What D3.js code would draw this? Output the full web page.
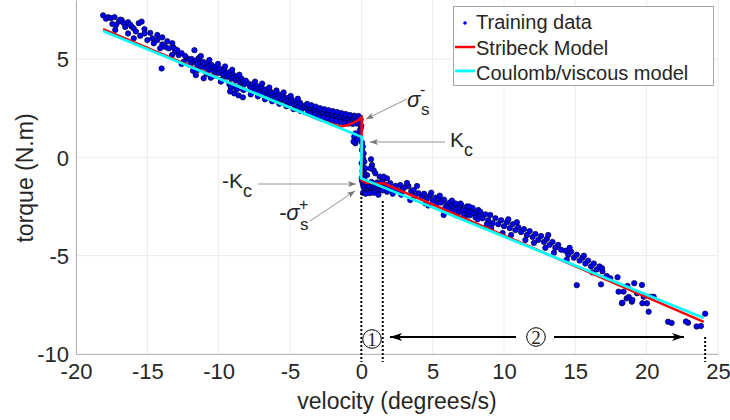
<!DOCTYPE html>
<meta charset="utf-8">
<script src="https://cdn.jsdelivr.net/npm/d3@7"></script>
<style>
body { margin: 0; background: #fff; }
text { font-family: "Liberation Sans", Arial, sans-serif; fill: #262626; }
.grid line { stroke: #ebebeb; stroke-width: 1px; }
.axisline { stroke: #b4b4b4; stroke-width: 1px; }
.ann { stroke: #777; stroke-width: 0.8px; fill: none; }
.dots { stroke: #000; stroke-width: 2px; stroke-dasharray: 2,2; }
</style>
<body>
<script>

// training data, [velocity, torque]
var leftData = [
  [-18.1,7.22],[-17.9,7.05],[-17.75,7.12],[-17.55,7.08],[-17.3,7.13],[-17.45,6.78],[-17.2,6.72],[-17.25,6.48],
  [-16.8,6.98],[-16.65,6.82],[-16.55,6.63],[-16.35,6.87],[-16.35,6.3],[-16.1,6.65],[-15.95,6.55],[-15.95,6.05],
  [-15.6,6.82],[-15.4,6.9],[-15.5,6.18],[-15.2,6.52],[-15.2,6.3],[-15.0,5.96],[-17.0,6.9],[-16.9,7.0],[-16.2,6.75],[-15.8,6.4],
  [-14.8,6.33],[-14.65,6.05],[-14.3,6.22],[-14.3,5.96],[-14.55,5.8],[-13.95,6.1],[-13.95,5.74],[-13.75,5.62],
  [-13.25,5.8],[-13.5,5.54],[-13.15,5.57],[-13.05,5.37],[-13.27,5.2],[-12.8,5.2],[-14.0,4.52],[-12.2,5.03],
  [-11.7,5.45],[-12.45,4.86],[-12.6,5.3],[-12.9,5.45],[-13.6,5.9],[-14.1,5.55],[-12.35,5.15],[-12.05,4.95],[-12.6,4.75],
  [-11.9,5.0],[-11.75,4.85],[-11.6,4.92],[-11.5,4.7],[-11.4,5.05],[-11.3,4.8],[-11.2,4.6],[-11.1,4.85],[-11.0,4.72],
  [-10.9,4.55],[-10.8,4.8],[-10.7,4.62],[-10.6,4.45],[-10.5,4.7],[-10.4,4.52],[-10.3,4.38],[-10.2,4.6],[-10.1,4.42],
  [-10.0,4.3],[-9.9,4.5],[-9.8,4.35],[-9.7,4.2],[-9.6,4.4],[-9.5,4.25],[-9.4,4.1],[-9.3,4.32],[-9.2,4.15],[-9.1,4.0],
  [-9.0,4.22],[-8.9,4.05],[-8.8,3.92],[-8.7,4.12],[-8.6,3.95],[-8.5,3.82],[-8.4,4.0],[-8.3,3.85],[-8.2,3.72],[-8.1,3.9],
  [-11.6,4.18],[-11.05,4.02],[-11.8,4.4],[-10.85,4.25],[-10.35,4.15],[-9.75,3.95],[-9.25,3.72],[-8.85,3.6],[-8.45,3.52],
  [-10.65,4.95],[-10.05,4.75],[-9.55,4.62],[-9.05,4.45],[-8.55,4.2],[-11.25,5.15],[-12.0,4.7],[-11.45,4.45],[-10.55,4.05],
  [-9.85,3.85],[-9.15,3.55],[-8.75,3.45],[-8.25,3.42],[-8.9,3.25],[-8.6,3.15],[-8.3,3.05],[-9.2,3.35],
  [-7.9,3.75],[-7.8,3.6],[-7.7,3.48],[-7.6,3.7],[-7.5,3.55],[-7.4,3.4],[-7.3,3.62],[-7.2,3.48],[-7.1,3.32],[-7.0,3.55],
  [-6.9,3.38],[-6.8,3.25],[-6.7,3.45],[-6.6,3.3],[-6.5,3.15],[-6.4,3.35],[-6.3,3.2],[-6.2,3.08],[-6.1,3.28],[-6.0,3.12],
  [-5.9,3.0],[-5.8,3.2],[-5.7,3.05],[-5.6,2.92],[-5.5,3.1],[-5.4,2.95],[-5.3,2.85],[-5.2,3.02],[-5.1,2.88],[-5.0,2.75],
  [-4.9,2.95],[-4.8,2.8],[-4.7,2.68],[-4.6,2.85],[-4.5,2.72],[-4.4,2.6],[-4.3,2.78],[-4.2,2.65],[-4.1,2.52],
  [-7.75,3.2],[-7.25,3.1],[-6.75,2.95],[-6.25,2.85],[-5.75,2.72],[-5.25,2.6],[-4.75,2.45],[-4.25,2.35],
  [-7.45,3.85],[-6.95,3.75],[-6.45,3.55],[-5.95,3.4],[-5.45,3.3],[-4.95,3.12],[-4.45,2.98],
  [-3.95,2.6],[-3.85,2.5],[-3.75,2.38],[-3.65,2.55],[-3.55,2.45],[-3.45,2.32],[-3.35,2.5],[-3.25,2.38],[-3.15,2.25],
  [-3.05,2.45],[-2.95,2.32],[-2.85,2.2],[-2.75,2.38],[-2.65,2.25],[-2.55,2.12],[-2.45,2.32],[-2.35,2.2],[-2.25,2.08],
  [-2.15,2.28],[-2.05,2.15],[-1.95,2.02],[-1.85,2.22],[-1.75,2.1],[-1.65,1.98],[-1.55,2.18],[-1.45,2.05],[-1.35,1.92],
  [-1.25,2.12],[-1.15,2.0],[-1.05,1.88],[-0.95,2.08],[-0.85,1.95],[-0.75,1.82],[-0.65,2.02],[-0.55,1.92],[-0.45,1.8],
  [-0.35,2.0],[-0.25,1.9],[-0.15,2.05],[-0.05,1.92],[-0.1,1.78],[-0.3,1.72],[-0.6,1.7],[-0.9,1.72],[-1.2,1.75],
  [-1.5,1.8],[-1.8,1.84],[-2.1,1.9],[-2.4,1.96],[-2.7,2.02],[-3.0,2.1],[-3.3,2.18],[-3.6,2.25],
  [-0.2,2.1],[-0.5,2.12],[-0.8,2.15],[-1.1,2.2],[-1.4,2.25],[-1.7,2.3],[-2.0,2.35],[-2.3,2.4],[-2.6,2.45],
  [-2.9,2.5],[-3.2,2.58],[-3.5,2.65],[-3.8,2.72]
];

var centerData = [
  [-0.42,1.22],[-0.35,0.97],[-0.42,0.71],[-0.5,1.05],[-0.55,0.8],[-0.16,1.13],[-0.25,0.9],[0.05,0.37],[0.16,0.2],
  [0.12,-0.05],[0.21,-0.22],[0.12,-0.48],[0.28,-0.56],[0.68,-0.1],[0.75,-0.39],[0.86,-0.65],[0.63,-0.56],[0.98,-0.81],
  [1.28,-0.98],[1.52,-1.12],[1.8,-1.07],[0.4,-0.9],[0.21,-0.81],[0.05,0.75],[0.1,0.55],[-0.05,1.45],[0.02,-0.3],
  [0.08,-0.7],[0.15,-1.0],[0.0,1.6],[-0.1,1.35],
  [0.05,-1.2],[0.1,-1.35],[0.15,-1.5],[0.2,-1.28],[0.25,-1.62],[0.3,-1.42],[0.35,-1.75],[0.4,-1.3],[0.45,-1.55],
  [0.5,-1.68],[0.55,-1.38],[0.6,-1.5],[0.65,-1.75],[0.7,-1.25],[0.75,-1.6],[0.8,-1.45],[0.85,-1.7],[0.9,-1.35],
  [0.95,-1.55],[1.0,-1.65],[1.05,-1.4],[1.1,-1.28],[1.15,-1.58],[1.2,-1.72],[1.25,-1.45],[1.3,-1.35],[1.35,-1.62],
  [1.4,-1.5],[1.45,-1.25],[1.5,-1.68],[0.12,-1.8],[0.3,-1.85],[0.6,-1.82],[0.9,-1.8],[1.2,-1.9],[0.02,-1.05],
  [0.2,-1.1],[1.56,-0.98]
];

var rightData = [
  [1.7,-1.4],[1.9,-1.55],[2.03,-1.32],[2.2,-1.6],[2.4,-1.45],[2.55,-1.7],[2.73,-1.41],[2.9,-1.62],[3.1,-1.5],
  [3.3,-1.46],[3.5,-1.72],[3.67,-1.66],[3.9,-1.46],[4.0,-1.83],[3.43,-2.17],[2.2,-1.85],[2.8,-1.9],[1.8,-1.75],
  [3.2,-1.3],[3.75,-1.95],
  [4.25,-2.0],[4.48,-2.34],[4.4,-1.85],[4.6,-2.1],[4.8,-1.95],[5.0,-2.2],[5.2,-2.05],[5.42,-2.08],[5.6,-2.3],
  [5.8,-2.15],[6.0,-2.4],[5.77,-2.93],[4.7,-2.45],[5.3,-2.35],[5.9,-2.55],[4.9,-1.8],[5.5,-1.95],
  [6.1,-2.59],[6.2,-2.3],[6.3,-2.45],[6.4,-2.7],[6.5,-2.5],[6.6,-2.35],[6.7,-2.6],[6.8,-2.8],[6.9,-2.55],[7.0,-2.42],
  [7.1,-2.7],[7.2,-2.9],[7.3,-2.65],[7.4,-2.5],[7.5,-2.78],[7.6,-2.95],[7.7,-2.7],[7.8,-2.58],[7.9,-2.85],[8.0,-3.05],
  [8.1,-2.8],[8.2,-2.68],[8.3,-2.95],[6.35,-2.2],[6.95,-2.35],[7.55,-2.5],[8.15,-3.15],[7.25,-3.1],[6.65,-2.95],[8.34,-2.77],
  [8.5,-3.1],[8.7,-2.9],[8.9,-3.2],[9.04,-2.93],[9.2,-3.35],[9.4,-3.1],[9.6,-3.4],[9.8,-3.2],[10.0,-3.5],[10.2,-3.3],
  [10.4,-3.6],[10.6,-3.4],[10.8,-3.7],[11.0,-3.55],[9.1,-3.6],[9.9,-3.85],[10.5,-3.95],[8.8,-3.4],[10.3,-3.15],[10.9,-3.3],
  [11.2,-3.8],[11.4,-3.65],[11.6,-3.95],[11.8,-3.75],[12.0,-4.05],[12.2,-3.9],[12.4,-4.2],[12.6,-4.0],[12.8,-4.3],
  [13.0,-4.15],[13.2,-4.45],[13.4,-4.3],[13.6,-4.6],[13.8,-4.45],[12.1,-4.35],[12.9,-4.6],[13.5,-4.85],[11.5,-4.2],
  [13.1,-3.95],[14.0,-4.7],
  [14.3,-4.75],[14.5,-4.95],[14.7,-4.8],[14.9,-5.1],[15.1,-4.95],[15.3,-5.25],[15.5,-5.1],[15.7,-5.4],[15.9,-5.25],
  [16.1,-5.55],[16.3,-5.4],[16.5,-5.7],[16.7,-5.55],[16.9,-5.8],[15.1,-6.5],[16.8,-6.46],[14.6,-4.6],[15.6,-5.0],
  [16.2,-5.85],[14.4,-5.2],[16.87,-5.64],
  [17.2,-6.03],[17.45,-6.15],[17.96,-6.1],[18.03,-6.83],[18.38,-6.83],[18.66,-6.54],[18.6,-7.17],[18.75,-7.1],
  [18.96,-7.34],[19.13,-6.4],[19.32,-6.91],[19.67,-6.49],[19.79,-7.09],[20.02,-7.42],[20.14,-7.85],[20.3,-7.09],
  [20.49,-7.09],[18.27,-7.42],[18.3,-7.39],[19.0,-7.25],[19.7,-7.42],
  [21.5,-8.36],[21.75,-8.42],[22.9,-8.41],[22.75,-8.35],[23.5,-8.6],[23.8,-8.58],[24.1,-7.95]
];

// model curves
var stribeckV = [-18.1, -8, -3, -1.47, -1.0, -0.54, -0.19, 0.02, 0.02, 0.3, 0.8, 1.6, 24];
var stribeckT = [6.52, 3.42, 1.92, 1.56, 1.63, 1.76, 1.9, 2.03, -1.15, -1.28, -1.32, -1.33, -8.37];
var coulombV = [-18.1, 0.04, -0.03, 24];
var coulombT = [6.42, 1.03, -1.06, -8.17];

var xTicks = [-20, -15, -10, -5, 0, 5, 10, 15, 20, 25];
var yTicks = [-10, -5, 0, 5];
var legendNames = ["Training data", "Stribeck Model", "Coulomb/viscous model"];

var width = 730, height = 420;

var x = d3.scaleLinear().domain([-20, 25]).range([76, 718]);
var y = d3.scaleLinear().domain([-10, 8]).range([354, 0]);

var svg = d3.select("body").append("svg")
    .attr("width", width)
    .attr("height", height);

// grid
var grid = svg.append("g").attr("class", "grid");
grid.selectAll(".gx").data(xTicks).enter().append("line")
    .attr("x1", d => x(d)).attr("x2", d => x(d))
    .attr("y1", y(-10)).attr("y2", 0);
grid.selectAll(".gy").data(yTicks).enter().append("line")
    .attr("x1", x(-20)).attr("x2", x(25))
    .attr("y1", d => y(d)).attr("y2", d => y(d));

// axes (plain hyphen minus, like the original)
var fmt = d => String(d);
var xAxis = svg.append("g")
    .attr("transform", "translate(0," + y(-10) + ")")
    .call(d3.axisBottom(x).tickValues(xTicks).tickFormat(fmt).tickSize(0).tickPadding(9));
var yAxis = svg.append("g")
    .attr("transform", "translate(" + x(-20) + ",0)")
    .call(d3.axisLeft(y).tickValues(yTicks).tickFormat(fmt).tickSize(0).tickPadding(7));
[xAxis, yAxis].forEach(function(g) {
  g.select(".domain").attr("class", "axisline");
  g.selectAll("text").style("font-size", "22px").attr("fill", "#262626")
    .style("font-family", "'Liberation Sans', Arial, sans-serif");
});
xAxis.selectAll("text").attr("dy", "0.71em");
yAxis.selectAll("text").attr("dy", "0.35em");

svg.append("text")
    .attr("x", 397).attr("y", 409)
    .attr("text-anchor", "middle")
    .style("font-size", "23px")
    .text("velocity (degrees/s)");
svg.append("text")
    .attr("transform", "translate(33,178) rotate(-90)")
    .attr("text-anchor", "middle")
    .style("font-size", "23px")
    .text("torque (N.m)");

// scatter
var allData = leftData.concat(centerData, rightData);
svg.append("g").selectAll("circle")
    .data(allData)
  .enter().append("circle")
    .attr("cx", d => x(d[0]))
    .attr("cy", d => y(d[1]))
    .attr("r", 2.7)
    .attr("fill", "#0000ff")
    .attr("stroke", "#00002a")
    .attr("stroke-width", 0.7);

var line = d3.line().x(d => x(d[0])).y(d => y(d[1]));

svg.append("path")
    .datum(stribeckV.map((v, i) => [v, stribeckT[i]]))
    .attr("d", line)
    .attr("fill", "none")
    .attr("stroke", "#ff0000")
    .attr("stroke-width", 2.5);

svg.append("path")
    .datum(coulombV.map((v, i) => [v, coulombT[i]]))
    .attr("d", line)
    .attr("fill", "none")
    .attr("stroke", "#00ffff")
    .attr("stroke-width", 2.8);

// dotted markers on the velocity axis
svg.append("line").attr("class", "dots")
    .attr("x1", x(0)).attr("x2", x(0)).attr("y1", 193).attr("y2", 362);
svg.append("line").attr("class", "dots")
    .attr("x1", x(1.5)).attr("x2", x(1.5)).attr("y1", 201).attr("y2", 362);
svg.append("line").attr("class", "dots")
    .attr("x1", x(24.1)).attr("x2", x(24.1)).attr("y1", 337).attr("y2", 362);

// region arrows
var defs = svg.append("defs");
defs.append("marker")
    .attr("id", "bigHead")
    .attr("viewBox", "0 0 12 8")
    .attr("refX", 12).attr("refY", 4)
    .attr("markerWidth", 12).attr("markerHeight", 8)
    .attr("markerUnits", "userSpaceOnUse")
    .attr("orient", "auto")
  .append("path").attr("d", "M0,0 L12,4 L0,8 L3,4 Z").attr("fill", "#000");
defs.append("marker")
    .attr("id", "smallHead")
    .attr("viewBox", "0 0 8 6")
    .attr("refX", 8).attr("refY", 3)
    .attr("markerWidth", 8).attr("markerHeight", 6)
    .attr("markerUnits", "userSpaceOnUse")
    .attr("orient", "auto")
  .append("path").attr("d", "M0,0 L8,3 L0,6 L2,3 Z").attr("fill", "#777");

svg.append("line")
    .attr("x1", 516).attr("x2", 390).attr("y1", 337).attr("y2", 337)
    .attr("stroke", "#000").attr("stroke-width", 2)
    .attr("marker-end", "url(#bigHead)");
svg.append("line")
    .attr("x1", 554).attr("x2", 684).attr("y1", 337).attr("y2", 337)
    .attr("stroke", "#000").attr("stroke-width", 2)
    .attr("marker-end", "url(#bigHead)");

[[372, 339, "1"], [536, 337, "2"]].forEach(function(c) {
  svg.append("circle").attr("cx", c[0]).attr("cy", c[1]).attr("r", 9.3)
    .attr("fill", "none").attr("stroke", "#000").attr("stroke-width", 1);
  svg.append("text").attr("x", c[0]).attr("y", c[1] + 6.5)
    .attr("text-anchor", "middle")
    .style("font-family", "'Liberation Serif', serif")
    .style("font-size", "19px").attr("fill", "#000")
    .text(c[2]);
});

// annotation arrows
function ann(x1, y1, x2, y2) {
  svg.append("line").attr("class", "ann")
    .attr("x1", x1).attr("y1", y1).attr("x2", x2).attr("y2", y2)
    .attr("marker-end", "url(#smallHead)");
}
ann(407, 99, 366, 119);
ann(445, 142, 370, 142);
ann(258, 184, 356, 184);
ann(310, 221, 355, 191);

// annotation labels
function lab(px, py, size, str, italic) {
  svg.append("text").attr("x", px).attr("y", py)
    .style("font-size", size + "px")
    .style("font-style", italic ? "italic" : "normal")
    .attr("fill", "#000")
    .text(str);
}
lab(407, 107, 22, "\u03c3", true);
lab(420, 95, 16, "-", false);
lab(421, 115, 17, "s", false);

lab(450, 147, 21, "K", false);
lab(464, 156, 18, "c", false);

lab(222, 188, 21, "-K", false);
lab(243, 197, 18, "c", false);

lab(279, 220, 22, "-\u03c3", true);
lab(299, 210, 16, "+", false);
lab(300, 230, 17, "s", false);

// legend
var lg = svg.append("g");
lg.append("rect")
    .attr("x", 453.5).attr("y", 6.5).attr("width", 260).attr("height", 79)
    .attr("fill", "#fff").attr("stroke", "#a6a6a6").attr("stroke-width", 1);
lg.append("circle").attr("cx", 465).attr("cy", 23).attr("r", 1.8).attr("fill", "#0000ff");
lg.append("line").attr("x1", 455).attr("x2", 475).attr("y1", 47).attr("y2", 47)
    .attr("stroke", "#ff0000").attr("stroke-width", 2.5);
lg.append("line").attr("x1", 455).attr("x2", 475).attr("y1", 71).attr("y2", 71)
    .attr("stroke", "#00ffff").attr("stroke-width", 2.8);
lg.selectAll(".lt").data(legendNames).enter().append("text")
    .attr("x", 476)
    .attr("y", (d, i) => 29 + i * 25.5)
    .style("font-size", "20px")
    .attr("fill", "#000")
    .text(d => d);

</script>
</body>
</html>
